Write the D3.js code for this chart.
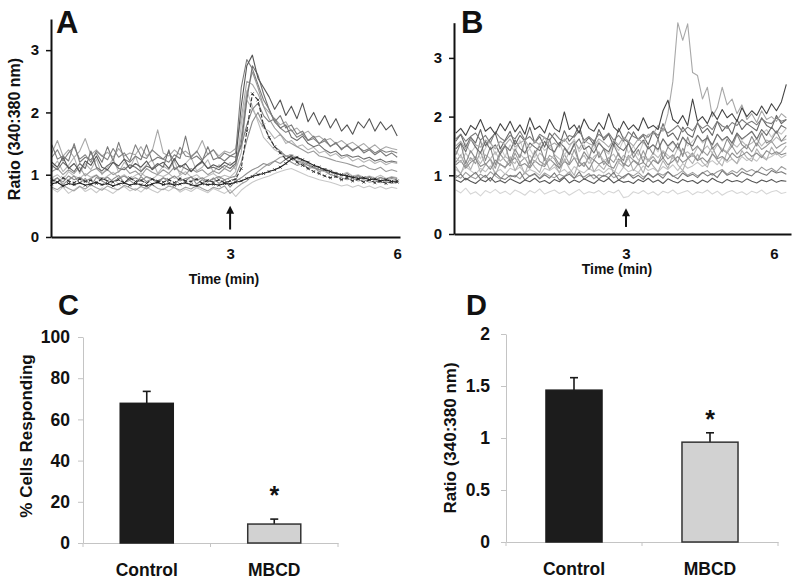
<!DOCTYPE html>
<html><head><meta charset="utf-8">
<script src="https://cdn.jsdelivr.net/npm/d3@7"></script>
<style>body{margin:0;background:#fff}svg{display:block}text{font-family:"Liberation Sans",Arial,sans-serif;font-weight:bold}</style>
</head><body><svg id="c" width="800" height="585"></svg>
<script>
// ---------- Panel A (control traces) ----------
const timeA = [-0.2,-0.1,0,0.1,0.2,0.3,0.4,0.5,0.6,0.7,0.8,0.9,1,1.1,1.2,1.3,1.4,1.5,1.6,1.7,1.8,1.9,2,2.1,2.2,2.3,2.4,2.5,2.6,2.7,2.8,2.9,3,3.1,3.2,3.3,3.4,3.5,3.6,3.7,3.8,3.9,4,4.1,4.2,4.3,4.4,4.5,4.6,4.7,4.8,4.9,5,5.1,5.2,5.3,5.4,5.5,5.6,5.7,5.8,5.9,6];
const traceA1 = [1.20,1.12,1.28,1.10,1.18,1.05,1.22,1.15,1.30,1.12,1.08,1.20,1.14,1.25,1.10,1.18,1.12,1.22,1.08,1.15,1.20,1.10,1.26,1.12,1.18,1.05,1.15,1.22,1.10,1.16,1.12,1.20,1.15,1.22,2.10,2.75,2.92,2.55,2.40,2.25,2.05,2.20,1.95,2.10,1.90,2.15,1.85,2.00,1.80,1.95,1.75,1.90,1.70,1.80,1.65,1.85,1.75,1.90,1.70,1.85,1.72,1.80,1.62];
const traceA2 = [1.48,1.25,1.30,1.22,1.50,1.20,1.28,1.24,1.35,1.20,1.45,1.22,1.52,1.25,1.20,1.30,1.24,1.48,1.22,1.28,1.25,1.20,1.32,1.26,1.62,1.25,1.30,1.22,1.45,1.24,1.28,1.22,1.30,1.35,2.40,2.85,2.70,2.45,2.20,2.05,1.85,1.95,1.75,1.80,1.65,1.70,1.55,1.62,1.50,1.58,1.45,1.52,1.40,1.48,1.38,1.45,1.35,1.40,1.32,1.38,1.30,1.35,1.28];
const traceA3 = [1.05,1.10,1.00,1.08,1.02,1.12,0.98,1.06,1.10,1.02,1.08,1.00,1.05,1.12,1.02,1.06,0.98,1.10,1.04,1.00,1.08,1.02,1.12,1.05,1.00,1.10,1.04,1.08,1.00,1.06,1.02,1.10,1.05,1.15,1.60,2.30,2.65,2.40,2.10,1.90,1.75,1.65,1.55,1.50,1.45,1.40,1.35,1.38,1.30,1.28,1.25,1.22,1.20,1.18,1.15,1.12,1.15,1.10,1.08,1.12,1.05,1.08,1.05];
const traceA4 = [0.95,1.00,0.92,1.05,0.98,0.94,1.02,0.96,1.00,0.92,0.98,1.04,0.95,1.00,0.93,0.99,1.03,0.96,0.92,1.00,0.97,1.02,0.94,0.99,1.05,0.96,1.00,0.93,0.98,1.02,0.95,0.99,0.96,1.05,1.80,2.35,2.10,1.85,1.60,1.50,1.40,1.35,1.30,1.25,1.22,1.18,1.15,1.10,1.12,1.05,1.08,1.02,1.00,1.04,0.98,1.00,0.96,0.98,0.95,0.99,0.94,0.97,0.95];
const traceA5 = [0.90,0.95,0.88,0.98,0.92,0.96,0.90,0.94,0.99,0.91,0.96,0.89,0.94,0.98,0.92,0.95,0.90,0.97,0.93,0.89,0.95,0.92,0.98,0.90,0.94,0.96,0.91,0.95,0.89,0.93,0.97,0.92,0.95,0.98,1.20,1.55,1.85,2.00,1.80,1.60,1.45,1.38,1.30,1.28,1.22,1.20,1.15,1.12,1.08,1.10,1.05,1.02,1.00,0.98,0.95,0.98,0.94,0.96,0.92,0.95,0.93,0.96,0.94];
const traceA6 = [0.78,0.72,0.80,0.70,0.76,0.82,0.73,0.78,0.71,0.79,0.75,0.70,0.77,0.81,0.74,0.78,0.72,0.80,0.75,0.71,0.78,0.74,0.80,0.72,0.77,0.73,0.79,0.75,0.71,0.78,0.74,0.70,0.76,0.65,0.75,0.82,0.88,0.92,0.95,0.98,1.02,1.05,1.08,1.10,1.06,1.02,0.98,0.95,0.92,0.90,0.88,0.85,0.82,0.84,0.80,0.83,0.79,0.82,0.78,0.81,0.77,0.80,0.78];
const traceA7 = [0.85,0.88,0.82,0.86,0.84,0.87,0.83,0.85,0.88,0.84,0.86,0.82,0.85,0.87,0.83,0.86,0.84,0.82,0.85,0.88,0.84,0.86,0.83,0.85,0.87,0.84,0.82,0.86,0.84,0.85,0.83,0.86,0.85,0.88,0.90,0.94,0.97,1.00,1.02,1.05,1.08,1.12,1.18,1.25,1.28,1.24,1.20,1.15,1.12,1.08,1.05,1.02,1.00,0.98,0.96,0.94,0.95,0.92,0.93,0.90,0.92,0.89,0.90];
const traceA8 = [0.92,0.88,0.95,0.90,0.87,0.93,0.89,0.91,0.86,0.94,0.90,0.88,0.92,0.87,0.95,0.89,0.91,0.86,0.93,0.90,0.88,0.92,0.87,0.94,0.90,0.89,0.93,0.86,0.91,0.88,0.92,0.87,0.90,0.93,1.10,1.70,2.30,2.20,1.80,1.60,1.45,1.35,1.25,1.30,1.20,1.15,1.10,1.05,1.02,0.98,0.95,0.97,0.92,0.95,0.90,0.93,0.88,0.92,0.87,0.90,0.86,0.89,0.88];
const traceA9 = [1.35,1.55,1.30,1.40,1.28,1.38,1.58,1.32,1.40,1.30,1.36,1.28,1.42,1.30,1.35,1.32,1.45,1.30,1.38,1.72,1.35,1.30,1.40,1.32,1.38,1.30,1.36,1.55,1.32,1.40,1.30,1.38,1.35,1.42,1.90,2.50,2.45,2.30,2.10,2.00,1.90,1.80,1.85,1.70,1.75,1.65,1.70,1.60,1.62,1.55,1.58,1.50,1.55,1.48,1.52,1.45,1.50,1.42,1.48,1.40,1.45,1.42,1.40];
const traceA10 = [0.80,0.76,0.83,0.78,0.74,0.81,0.77,0.84,0.79,0.75,0.82,0.78,0.76,0.83,0.79,0.75,0.81,0.77,0.84,0.78,0.76,0.82,0.79,0.75,0.80,0.77,0.83,0.78,0.74,0.80,0.77,0.82,0.70,0.78,0.85,0.90,0.98,1.05,1.12,1.18,1.22,1.28,1.30,1.32,1.26,1.22,1.18,1.12,1.08,1.05,1.00,0.98,0.95,0.92,0.94,0.90,0.92,0.88,0.90,0.87,0.89,0.86,0.88];
const traceA11 = [1.15,1.08,1.20,1.12,1.05,1.18,1.10,1.38,1.12,1.06,1.15,1.20,1.10,1.08,1.16,1.12,1.05,1.14,1.10,1.18,1.12,1.40,1.08,1.15,1.10,1.05,1.14,1.20,1.10,1.12,1.08,1.15,1.10,1.18,1.50,2.20,2.75,2.60,2.30,2.05,1.85,1.75,1.80,1.60,1.55,1.62,1.50,1.45,1.48,1.40,1.35,1.38,1.30,1.32,1.28,1.30,1.25,1.28,1.22,1.25,1.20,1.22,1.20];
const traceA12 = [1.10,1.22,1.05,1.15,1.28,1.02,1.18,1.08,1.25,1.00,1.12,1.26,1.04,1.20,1.10,1.30,1.06,1.16,1.24,1.02,1.14,1.08,1.22,1.00,1.18,1.28,1.06,1.12,1.24,1.04,1.16,1.10,1.20,1.08,1.35,2.20,2.05,1.90,1.75,1.70,1.58,1.65,1.50,1.55,1.45,1.48,1.40,1.44,1.35,1.38,1.30,1.34,1.26,1.30,1.22,1.26,1.20,1.24,1.18,1.22,1.16,1.20,1.18];
const traceA13 = [0.88,0.95,0.84,0.92,0.98,0.86,0.94,0.82,0.96,0.90,0.85,0.93,0.99,0.87,0.91,0.84,0.97,0.89,0.93,0.86,0.95,0.88,0.83,0.94,0.90,0.97,0.85,0.92,0.88,0.95,0.86,0.92,0.80,0.90,0.95,1.02,1.08,1.12,1.18,1.15,1.22,1.18,1.25,1.20,1.15,1.18,1.10,1.12,1.05,1.08,1.00,1.04,0.98,1.02,0.95,0.99,0.93,0.97,0.92,0.96,0.91,0.94,0.92];
const traceA14 = [1.28,1.40,1.22,1.35,1.45,1.25,1.32,1.20,1.38,1.30,1.24,1.42,1.28,1.35,1.22,1.48,1.30,1.26,1.40,1.32,1.25,1.36,1.22,1.44,1.30,1.28,1.38,1.24,1.33,1.40,1.26,1.35,1.30,1.28,1.45,1.80,2.05,2.15,1.95,1.85,1.90,1.75,1.68,1.72,1.60,1.65,1.55,1.58,1.50,1.54,1.46,1.50,1.42,1.46,1.40,1.44,1.38,1.42,1.35,1.40,1.36,1.38,1.35];

// ---------- Panel B (MBCD traces) ----------
const timeB = [-0.45,-0.35,-0.25,-0.15,-0.05,0.05,0.15,0.25,0.35,0.45,0.55,0.65,0.75,0.85,0.95,1.05,1.15,1.25,1.35,1.45,1.55,1.65,1.75,1.85,1.95,2.05,2.15,2.25,2.35,2.45,2.55,2.65,2.75,2.85,2.95,3.05,3.15,3.25,3.35,3.45,3.55,3.65,3.75,3.85,3.95,4.05,4.15,4.25,4.35,4.45,4.55,4.65,4.75,4.85,4.95,5.05,5.15,5.25,5.35,5.45,5.55,5.65,5.75,5.85,5.95,6.05,6.15,6.25];
const traceB1 = [1.72,1.80,1.68,1.85,1.78,1.95,1.75,1.82,1.70,1.88,1.76,1.92,1.74,1.86,1.70,1.98,1.78,1.84,1.72,1.95,1.80,1.74,2.08,1.78,1.86,1.72,1.96,1.80,1.75,1.90,1.78,2.05,1.82,1.74,1.92,1.78,1.86,1.76,1.98,1.80,1.85,1.78,2.10,2.28,1.95,1.88,2.02,1.85,2.30,1.92,2.00,1.88,2.08,1.95,2.12,1.98,2.05,1.92,2.15,2.00,2.10,2.02,2.18,2.05,2.22,2.10,2.25,2.55];
const traceB2 = [1.50,1.58,1.45,1.62,1.52,1.48,1.60,1.55,1.45,1.58,1.52,1.62,1.48,1.55,1.60,1.46,1.58,1.52,1.65,1.50,1.55,1.48,1.62,1.52,1.58,1.45,1.60,1.54,1.50,1.62,1.56,1.48,1.60,1.52,1.65,1.58,1.50,1.62,1.55,1.70,1.70,1.85,1.75,2.05,2.60,3.60,3.30,3.58,2.75,2.70,2.30,2.50,2.00,2.15,2.50,2.20,2.30,2.05,2.20,1.95,2.05,1.90,2.10,1.95,2.00,1.92,2.05,1.98];
const traceB3 = [1.45,1.55,1.40,1.62,1.48,1.38,1.58,1.44,1.52,1.36,1.50,1.42,1.60,1.46,1.38,1.55,1.48,1.42,1.58,1.45,1.40,1.56,1.48,1.36,1.52,1.62,1.44,1.50,1.38,1.55,1.46,1.40,1.58,1.48,1.42,1.54,1.38,1.50,1.60,1.45,1.52,1.44,1.62,1.50,1.58,1.46,1.65,1.55,1.50,1.68,1.58,1.64,1.52,1.70,1.60,1.66,1.55,1.72,1.62,1.68,1.75,1.62,1.78,1.68,1.82,1.72,1.85,1.80];
const traceB4 = [1.30,1.22,1.38,1.25,1.32,1.20,1.35,1.28,1.40,1.24,1.32,1.26,1.20,1.36,1.28,1.34,1.22,1.38,1.30,1.25,1.35,1.28,1.22,1.40,1.30,1.26,1.34,1.20,1.32,1.38,1.25,1.30,1.36,1.22,1.34,1.28,1.40,1.26,1.32,1.24,1.38,1.30,1.42,1.34,1.28,1.46,1.36,1.40,1.32,1.48,1.42,1.50,1.38,1.52,1.45,1.40,1.55,1.48,1.58,1.50,1.55,1.62,1.50,1.60,1.56,1.65,1.58,1.62];
const traceB5 = [1.18,1.25,1.12,1.22,1.28,1.15,1.20,1.10,1.26,1.18,1.14,1.22,1.30,1.16,1.20,1.12,1.25,1.18,1.15,1.28,1.20,1.12,1.24,1.18,1.30,1.15,1.22,1.10,1.26,1.19,1.24,1.16,1.12,1.28,1.20,1.15,1.25,1.18,1.22,1.14,1.26,1.20,1.30,1.18,1.24,1.32,1.22,1.28,1.35,1.25,1.30,1.22,1.36,1.28,1.32,1.25,1.38,1.30,1.34,1.40,1.32,1.38,1.30,1.42,1.36,1.40,1.35,1.38];
const traceB6 = [1.10,1.04,1.15,1.08,1.02,1.12,1.06,1.16,1.05,1.10,1.02,1.12,1.08,1.14,1.04,1.10,1.06,1.00,1.12,1.08,1.14,1.05,1.10,1.02,1.15,1.08,1.04,1.12,1.06,1.10,1.04,1.12,1.08,1.02,1.14,1.06,1.10,1.05,1.16,1.08,1.12,1.06,1.15,1.10,1.18,1.08,1.20,1.12,1.16,1.22,1.15,1.20,1.25,1.18,1.30,1.22,1.28,1.20,1.32,1.25,1.30,1.24,1.35,1.28,1.32,1.38,1.30,1.35];
const traceB7 = [1.00,0.95,1.05,0.98,0.94,1.02,0.96,1.06,0.99,0.93,1.03,0.97,1.00,0.94,1.05,0.98,1.02,0.95,1.04,0.99,0.96,1.02,0.98,1.06,0.95,1.00,0.97,1.03,0.94,1.01,0.98,1.04,0.96,1.00,0.95,1.03,0.99,1.05,0.97,1.02,0.96,1.04,1.00,1.06,0.98,1.02,1.08,1.00,1.05,0.99,1.04,1.08,1.00,1.06,1.10,1.02,1.08,1.04,1.12,1.06,1.10,1.05,1.14,1.08,1.12,1.06,1.15,1.10];
const traceB8 = [0.92,0.88,0.95,0.90,0.86,0.93,0.89,0.96,0.88,0.91,0.87,0.94,0.90,0.86,0.92,0.89,0.95,0.88,0.91,0.86,0.93,0.89,0.96,0.87,0.92,0.88,0.94,0.90,0.86,0.93,0.89,0.95,0.87,0.92,0.88,0.90,0.86,0.93,0.89,0.95,0.88,0.92,0.86,0.94,0.90,0.87,0.93,0.89,0.91,0.86,0.92,0.88,0.95,0.90,0.87,0.93,0.89,0.91,0.88,0.94,0.90,0.87,0.92,0.89,0.93,0.88,0.91,0.90];
const traceB9 = [0.75,0.70,0.78,0.68,0.72,0.65,0.74,0.70,0.76,0.69,0.73,0.67,0.75,0.71,0.66,0.74,0.70,0.77,0.68,0.72,0.75,0.69,0.73,0.66,0.71,0.76,0.68,0.72,0.70,0.74,0.67,0.73,0.70,0.75,0.62,0.64,0.72,0.69,0.74,0.68,0.72,0.66,0.73,0.70,0.75,0.68,0.71,0.74,0.67,0.72,0.70,0.75,0.68,0.73,0.66,0.71,0.74,0.69,0.72,0.67,0.73,0.70,0.75,0.68,0.72,0.74,0.69,0.71];
const traceB10 = [1.62,1.70,1.58,1.66,1.72,1.60,1.68,1.55,1.74,1.64,1.58,1.68,1.62,1.75,1.60,1.66,1.56,1.70,1.64,1.60,1.72,1.62,1.58,1.68,1.65,1.76,1.60,1.66,1.58,1.70,1.64,1.72,1.60,1.68,1.58,1.74,1.66,1.62,1.70,1.65,1.75,1.68,1.80,1.72,1.78,1.85,1.74,1.82,1.76,1.88,1.80,1.86,1.78,1.92,1.84,1.80,1.90,1.85,1.95,1.88,1.92,1.86,1.96,1.90,1.88,1.98,1.92,1.95];
const traceB11 = [1.35,1.55,1.20,1.42,1.28,1.60,1.25,1.48,1.18,1.40,1.52,1.22,1.45,1.30,1.58,1.20,1.38,1.50,1.25,1.62,1.32,1.18,1.46,1.35,1.55,1.22,1.40,1.28,1.60,1.30,1.45,1.20,1.52,1.34,1.25,1.58,1.30,1.44,1.22,1.50,1.36,1.62,1.28,1.48,1.40,1.55,1.32,1.65,1.42,1.50,1.38,1.68,1.45,1.55,1.40,1.62,1.48,1.70,1.52,1.45,1.66,1.50,1.72,1.55,1.60,1.75,1.58,1.68];
const traceB12 = [1.15,1.02,1.25,1.10,1.30,1.05,1.18,1.28,1.00,1.20,1.12,1.32,1.08,1.22,1.02,1.26,1.14,1.05,1.30,1.10,1.20,1.04,1.28,1.12,1.00,1.24,1.16,1.32,1.06,1.18,1.10,1.26,1.02,1.22,1.14,1.30,1.08,1.20,1.04,1.28,1.16,1.06,1.25,1.12,1.34,1.18,1.08,1.30,1.20,1.36,1.22,1.14,1.38,1.25,1.16,1.40,1.28,1.20,1.42,1.30,1.24,1.45,1.32,1.26,1.48,1.35,1.40,1.50];
const traceB13 = [1.58,1.70,1.48,1.65,1.55,1.78,1.50,1.62,1.72,1.45,1.60,1.75,1.52,1.68,1.58,1.82,1.55,1.66,1.48,1.72,1.62,1.50,1.76,1.58,1.68,1.85,1.55,1.64,1.52,1.78,1.60,1.70,1.50,1.80,1.62,1.56,1.74,1.60,1.68,1.52,1.75,1.62,1.88,1.66,1.72,1.60,1.82,1.70,1.65,1.90,1.72,1.80,1.68,1.92,1.75,1.85,1.70,1.95,1.78,1.88,1.82,1.76,1.98,1.85,1.80,2.02,1.88,1.95];
const traceB14 = [1.42,1.30,1.55,1.38,1.50,1.28,1.46,1.58,1.35,1.48,1.32,1.52,1.40,1.60,1.36,1.45,1.30,1.55,1.42,1.50,1.38,1.56,1.34,1.48,1.62,1.40,1.52,1.32,1.46,1.58,1.44,1.36,1.54,1.42,1.60,1.38,1.50,1.34,1.56,1.45,1.52,1.40,1.62,1.48,1.56,1.44,1.65,1.50,1.58,1.68,1.55,1.62,1.50,1.70,1.58,1.66,1.54,1.72,1.60,1.68,1.74,1.62,1.70,1.78,1.65,1.76,1.70,1.80];
const traceB15 = [0.96,1.02,0.92,0.98,1.05,0.94,1.00,0.90,1.04,0.96,0.93,1.00,0.97,1.06,0.92,0.99,1.03,0.94,1.01,0.95,1.04,0.92,0.98,1.02,0.95,1.06,0.93,0.99,1.01,0.94,1.00,0.96,1.05,0.92,0.98,1.03,0.95,1.00,0.93,1.04,0.97,1.02,0.95,1.06,0.99,0.94,1.04,0.98,1.02,0.96,1.05,0.99,1.03,0.96,1.08,1.00,1.04,0.98,1.06,1.02,0.99,1.07,1.03,1.00,1.08,1.04,1.06,1.02];
const traceB16 = [1.22,1.35,1.15,1.30,1.20,1.40,1.18,1.28,1.12,1.36,1.25,1.16,1.38,1.22,1.30,1.14,1.42,1.24,1.18,1.34,1.28,1.12,1.36,1.20,1.44,1.22,1.15,1.32,1.26,1.40,1.18,1.30,1.22,1.38,1.16,1.34,1.26,1.20,1.42,1.24,1.32,1.20,1.40,1.28,1.35,1.22,1.46,1.30,1.38,1.26,1.42,1.34,1.48,1.30,1.44,1.38,1.50,1.36,1.45,1.52,1.40,1.55,1.44,1.50,1.58,1.46,1.52,1.56];

// ---------- Panels C and D ----------
const groups = ["Control", "MBCD"];
const pctResponding = [67.8, 9.2];
const pctRespondingErr = [5.8, 2.4];
const peakRatio = [1.46, 0.96];
const peakRatioErr = [0.12, 0.09];
const ticksC = [0, 20, 40, 60, 80, 100];
const ticksD = [0, 0.5, 1, 1.5, 2];
const ticksTrace = [0, 1, 2, 3];
const ticksTime = [3, 6];

const svg = d3.select("#c");

function tracePanel(opt) {
  const g = svg.append("g");
  const x = d3.scaleLinear().domain(opt.xDomain).range(opt.xRange);
  const y = d3.scaleLinear().domain(opt.yDomain).range(opt.yRange);
  const line = d3.line().x((d, i) => x(opt.time[i])).y(d => y(d));
  opt.traces.forEach(tr => {
    g.append("path").datum(tr.v).attr("d", line).attr("fill", "none")
      .attr("stroke", tr.c).attr("stroke-width", tr.w || 1.1).attr("stroke-linejoin", "round")
      .attr("stroke-dasharray", tr.dash || null);
    if (tr.marker) {
      g.append("g").selectAll("path").data(tr.v).join("path")
        .attr("d", (d, i) => { const px = x(opt.time[i]), py = y(d), s = 1.4;
          return `M${px-s},${py-s}L${px+s},${py+s}M${px-s},${py+s}L${px+s},${py-s}`; })
        .attr("stroke", tr.c).attr("stroke-width", 0.8);
    }
  });
  const ya = g.append("g").attr("transform", `translate(${opt.xRange[0]},0)`)
    .call(d3.axisLeft(y).tickValues(ticksTrace).tickSize(5).tickSizeOuter(0).tickPadding(opt.yPad).tickFormat(d3.format("d")));
  const xa = g.append("g").attr("transform", `translate(0,${opt.yRange[0]})`)
    .call(d3.axisBottom(x).tickValues(ticksTime).tickSize(0).tickSizeOuter(0).tickPadding(opt.xPad).tickFormat(d3.format("d")));
  [ya, xa].forEach(a => {
    a.select(".domain").attr("stroke", "#111").attr("stroke-width", 2);
    a.selectAll(".tick line").attr("stroke", "#111").attr("stroke-width", 1.5);
    a.selectAll("text").attr("font-size", 15).attr("fill", "#111");
  });
  // stimulus arrow
  const ax = x(3), ay0 = y(opt.arrow[0]), ay1 = y(opt.arrow[1]);
  g.append("line").attr("x1", ax).attr("x2", ax).attr("y1", ay0).attr("y2", ay1 + 5)
    .attr("stroke", "#111").attr("stroke-width", 2);
  g.append("path").attr("d", `M${ax},${ay1}L${ax-4},${ay1+8}L${ax+4},${ay1+8}Z`).attr("fill", "#111");
  g.append("text").attr("x", opt.titleX).attr("y", opt.titleY).attr("text-anchor", "middle")
    .attr("font-size", 14).attr("fill", "#111").text("Time (min)");
  g.append("text").attr("x", opt.labelX).attr("y", 33).attr("font-size", 31).attr("fill", "#111").text(opt.label);
  if (opt.yTitle) {
    g.append("text").attr("transform", `translate(20,129) rotate(-90)`).attr("text-anchor", "middle")
      .attr("font-size", 16).attr("fill", "#111").text("Ratio (340:380 nm)");
  }
}

tracePanel({
  time: timeA, xDomain: [-0.215, 6.05], xRange: [51, 400], yDomain: [0, 3.5], yRange: [237, 19],
  yPad: 7, xPad: 11, arrow: [0.12, 0.5], titleX: 224, titleY: 284, labelX: 56, label: "A", yTitle: true,
  traces: [
    {v: traceA6, c: "#c8c8c8"}, {v: traceA10, c: "#a0a0a0"}, {v: traceA4, c: "#bdbdbd"},
    {v: traceA13, c: "#909090"}, {v: traceA12, c: "#b4b4b4"},
    {v: traceA9, c: "#a8a8a8"}, {v: traceA5, c: "#8a8a8a"}, {v: traceA3, c: "#9a9a9a"},
    {v: traceA14, c: "#828282"},
    {v: traceA11, c: "#6e6e6e"}, {v: traceA2, c: "#7a7a7a"}, {v: traceA1, c: "#555"},
    {v: traceA8, c: "#333", dash: "4,2", marker: true}, {v: traceA7, c: "#222", marker: true}
  ]
});

tracePanel({
  time: timeB, xDomain: [-0.487, 6.345], xRange: [454, 791], yDomain: [0, 3.6], yRange: [234, 22.7],
  yPad: 7, xPad: 14, arrow: [0.12, 0.44], titleX: 617, titleY: 274, labelX: 461, label: "B", yTitle: false,
  traces: [
    {v: traceB9, c: "#d6d6d6"}, {v: traceB7, c: "#9c9c9c"}, {v: traceB6, c: "#c4c4c4"},
    {v: traceB12, c: "#b0b0b0"}, {v: traceB16, c: "#999"}, {v: traceB14, c: "#c8c8c8"},
    {v: traceB5, c: "#8c8c8c"}, {v: traceB4, c: "#b8b8b8"}, {v: traceB11, c: "#8a8a8a"},
    {v: traceB3, c: "#6c6c6c"}, {v: traceB15, c: "#777"}, {v: traceB13, c: "#666"},
    {v: traceB10, c: "#7c7c7c"}, {v: traceB8, c: "#555"}, {v: traceB2, c: "#a8a8a8"},
    {v: traceB1, c: "#444"}
  ]
});

function barPanel(opt) {
  const g = svg.append("g");
  const x = d3.scaleBand().domain(groups).range(opt.xRange).paddingInner(opt.pad).paddingOuter(opt.pad / 2);
  const y = d3.scaleLinear().domain(opt.yDomain).range(opt.yRange);
  const ya = g.append("g").attr("transform", `translate(${opt.xRange[0]},0)`)
    .call(d3.axisLeft(y).tickValues(opt.ticks).tickSize(5).tickSizeOuter(0).tickPadding(opt.yPad).tickFormat(d => String(d)));
  const xa = g.append("g").attr("transform", `translate(0,${opt.yRange[0]})`)
    .call(d3.axisBottom(x).tickSize(0).tickSizeOuter(0).tickPadding(opt.xPad));
  [ya, xa].forEach(a => {
    a.select(".domain").attr("stroke", "#c4c4c4").attr("stroke-width", 1);
    a.selectAll(".tick line").attr("stroke", "#c4c4c4");
    a.selectAll("text").attr("font-size", 17.5).attr("fill", "#111");
  });
  const bounds = [0, 1, 2].map(k => opt.xRange[0] + k * x.step());
  g.selectAll("line.bt").data(bounds).join("line").attr("class", "bt")
    .attr("x1", d => d).attr("x2", d => d).attr("y1", opt.yRange[0]).attr("y2", opt.yRange[0] + 4)
    .attr("stroke", "#c4c4c4");
  const data = groups.map((k, i) => ({k, v: opt.values[i], e: opt.errs[i]}));
  data.forEach(d => {
    const cx = x(d.k) + x.bandwidth() / 2;
    g.append("line").attr("x1", cx).attr("x2", cx).attr("y1", y(d.v)).attr("y2", y(d.v + d.e))
      .attr("stroke", "#1a1a1a").attr("stroke-width", 1.6);
    g.append("line").attr("x1", cx - 4).attr("x2", cx + 4).attr("y1", y(d.v + d.e)).attr("y2", y(d.v + d.e))
      .attr("stroke", "#1a1a1a").attr("stroke-width", 1.6);
  });
  g.selectAll("rect").data(data).join("rect")
    .attr("x", d => x(d.k)).attr("width", x.bandwidth())
    .attr("y", d => y(d.v)).attr("height", d => y(0) - y(d.v))
    .attr("fill", (d, i) => i === 0 ? "#1c1c1c" : "#d2d2d2")
    .attr("stroke", (d, i) => i === 0 ? "#1c1c1c" : "#333").attr("stroke-width", 1.5);
  const m = data[1];
  g.append("text").attr("x", x(m.k) + x.bandwidth() / 2).attr("y", y(m.v + m.e) - opt.starOff)
    .attr("text-anchor", "middle").attr("font-size", 25).attr("fill", "#111").text("*");
  g.append("text").attr("x", opt.labelX).attr("y", 315).attr("font-size", 29).attr("fill", "#111").text(opt.label);
  g.append("text").attr("transform", `translate(${opt.titleX},${opt.titleY}) rotate(-90)`).attr("text-anchor", "middle")
    .attr("font-size", 17).attr("fill", "#111").text(opt.yTitle);
}

barPanel({
  xRange: [83, 338], yRange: [543, 337], yDomain: [0, 100], ticks: ticksC, pad: 0.584,
  values: pctResponding, errs: pctRespondingErr, yPad: 8, xPad: 21, starOff: 15,
  labelX: 58, label: "C", titleX: 32, titleY: 436, yTitle: "% Cells Responding"
});
barPanel({
  xRange: [506, 778], yRange: [542, 334], yDomain: [0, 2], ticks: ticksD, pad: 0.588,
  values: peakRatio, errs: peakRatioErr, yPad: 11, xPad: 21, starOff: 5,
  labelX: 466, label: "D", titleX: 456, titleY: 438, yTitle: "Ratio (340:380 nm)"
});
</script></body></html>
